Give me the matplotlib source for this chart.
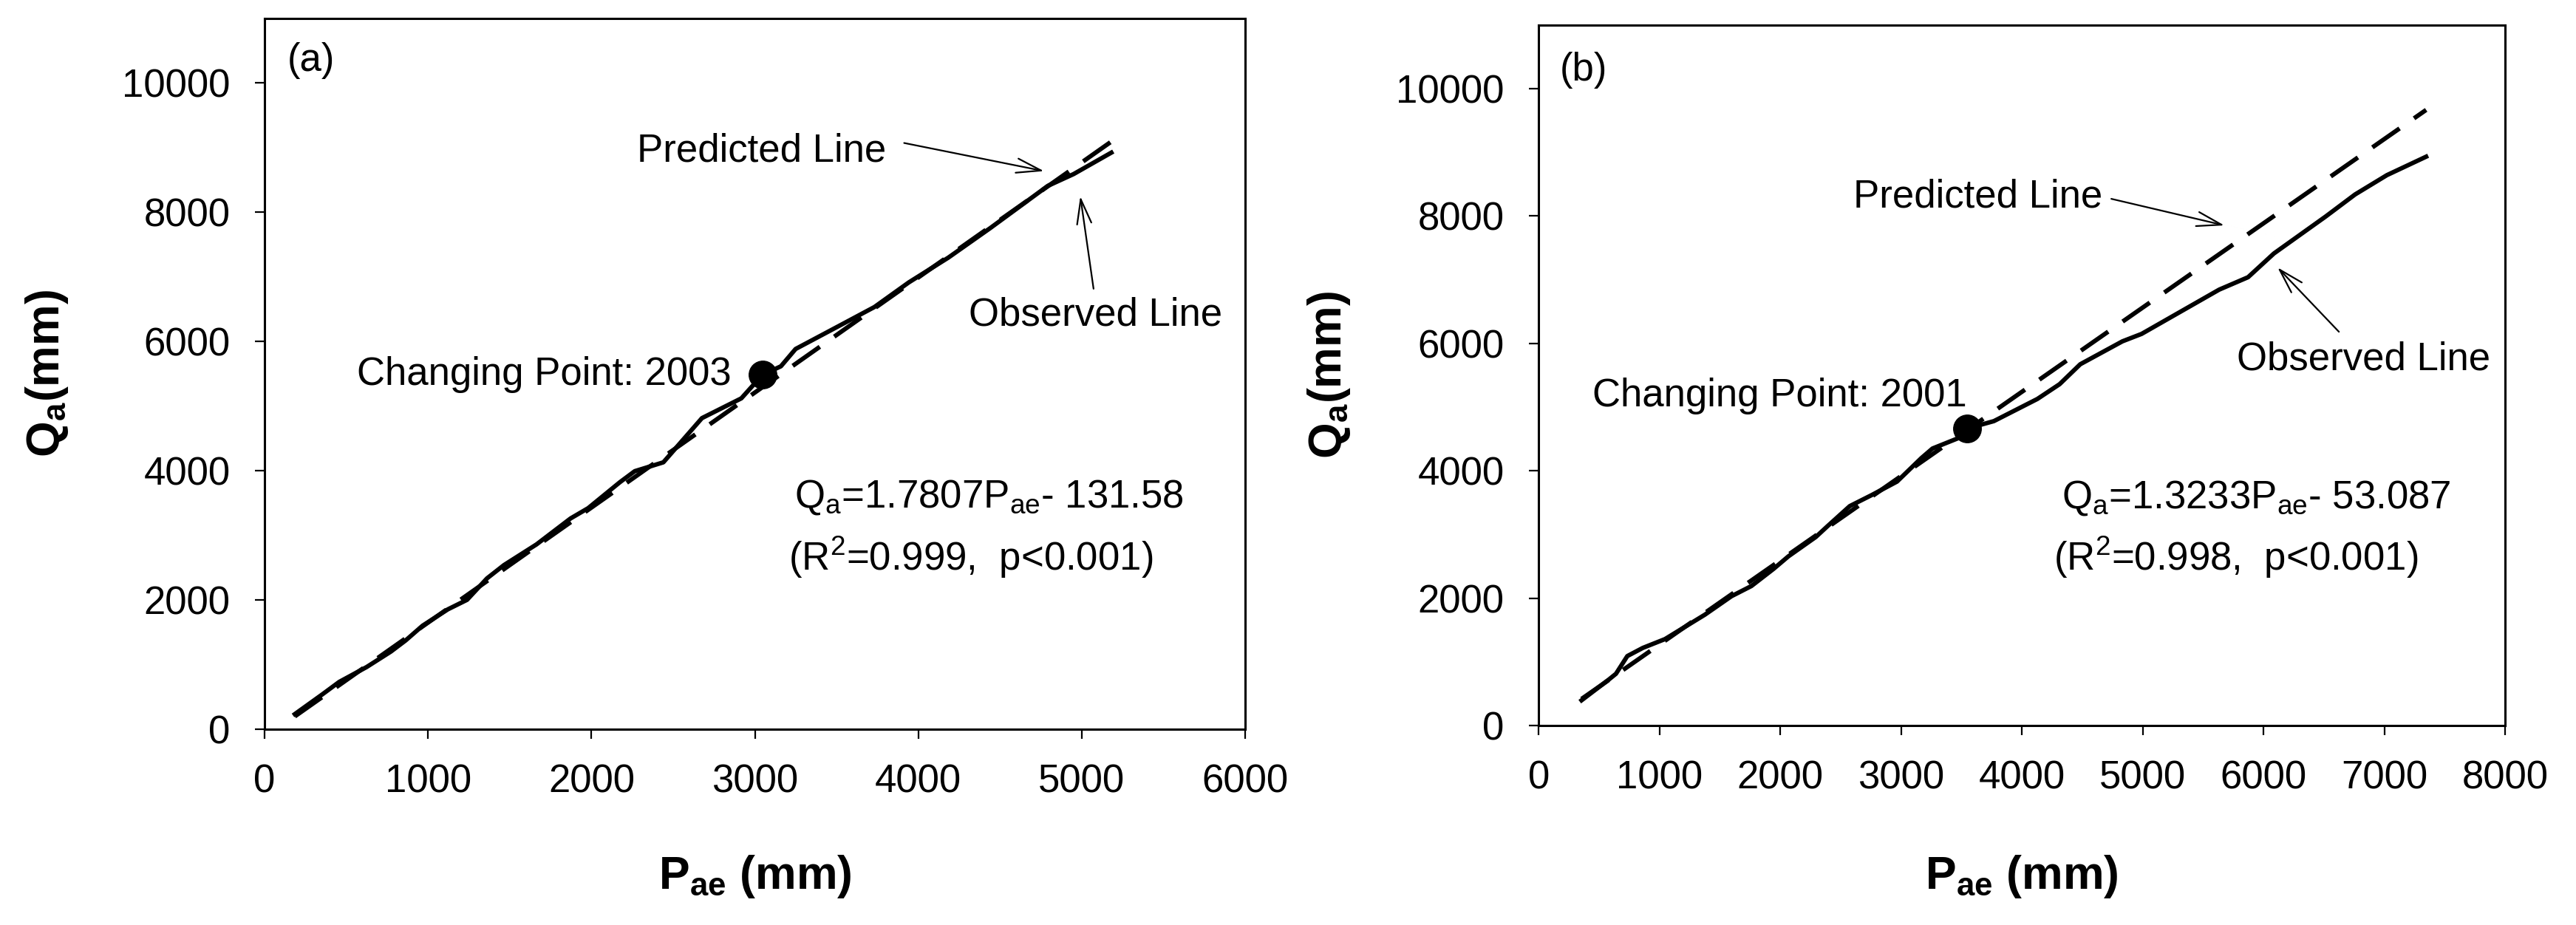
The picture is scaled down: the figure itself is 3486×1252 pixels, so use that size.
import matplotlib
matplotlib.use("Agg")
import matplotlib.pyplot as plt

plt.rcParams['font.family'] = ['Liberation Sans', 'DejaVu Sans']
plt.rcParams['mathtext.fontset'] = 'custom'
plt.rcParams['mathtext.rm'] = 'Liberation Sans'
plt.rcParams['mathtext.it'] = 'Liberation Sans:italic'
plt.rcParams['mathtext.bf'] = 'Liberation Sans:bold'

# (a) cumulative series, changing point 2003
pae_a = [185, 353, 457, 624, 773, 863, 967, 1121, 1239, 1361, 1465, 1664, 1872, 1980, 2174,
         2265, 2440, 2676, 2917, 3046, 3159, 3249, 3505, 3731, 3942, 4183, 4440, 4792, 4950, 5181]
qa_a = [233, 538, 732, 961, 1201, 1373, 1602, 1854, 2002, 2334, 2540, 2860, 3261, 3421, 3822,
        3993, 4130, 4814, 5120, 5483, 5616, 5884, 6228, 6533, 6915, 7297, 7755, 8408, 8591, 8923]
change_a = (3046, 5483)
slope_a, icpt_a = 1.7807, -131.58

# (b) cumulative series, changing point 2001
pae_b = [355, 580, 640, 734, 862, 1046, 1376, 1596, 1761, 1945, 2067, 2294, 2391, 2575, 2758,
         2966, 3168, 3260, 3474, 3547, 3768, 4128, 4312, 4483, 4832, 4991, 5633, 5872, 6086,
         6514, 6758, 7021, 7346]
qa_b = [395, 720, 812, 1090, 1218, 1357, 1740, 2030, 2190, 2460, 2656, 2960, 3130, 3445, 3620,
        3830, 4200, 4350, 4513, 4663, 4780, 5128, 5360, 5673, 6033, 6150, 6845, 7040, 7413,
        7993, 8340, 8643, 8933]
change_b = (3547, 4663)
slope_b, icpt_b = 1.3233, -53.087

FS = 38
LW = 4.3

fig = plt.figure(figsize=(34.86, 12.52), dpi=100)
ax1 = fig.add_axes([0.1027, 0.2117, 0.3807, 0.7684])
ax2 = fig.add_axes([0.5973, 0.2157, 0.3752, 0.7572])


def style_axes(ax, xmax, ylab_x, xlab_y):
    ax.set_xlim(0, xmax)
    ax.set_ylim(0, 11000)
    ax.set_xticks(range(0, xmax + 1, 1000))
    ax.set_yticks(range(0, 10001, 2000))
    for s in ax.spines.values():
        s.set_linewidth(2.2)
    ax.tick_params(direction='out', length=9.5, width=1.6, labelsize=FS)
    ax.tick_params(axis='x', pad=24)
    ax.tick_params(axis='y', pad=24)
    ax.set_xlabel(r'P$_\mathregular{ae}$ (mm)', fontsize=45, fontweight='bold', va='top')
    ax.set_ylabel(r'Q$_\mathregular{a}$(mm)', fontsize=45, fontweight='bold')
    ax.xaxis.set_label_coords(0.5, xlab_y)
    ax.yaxis.set_label_coords(ylab_x, 0.5)


def arrow(ax, start, end):
    ax.annotate('', xy=end, xytext=start,
                arrowprops=dict(arrowstyle='->,head_length=1.2,head_width=0.35',
                                lw=1.6, color='black', shrinkA=0, shrinkB=0,
                                mutation_scale=20))


# panel (a)
ax1.plot(pae_a, qa_a, color='black', lw=LW, solid_joinstyle='round')
xa = [pae_a[0], pae_a[-1]]
ax1.plot(xa, [slope_a * v + icpt_a for v in xa], color='black', lw=LW, linestyle=(0, (7.5, 4)))
ax1.plot(*change_a, 'o', color='black', markersize=27)
style_axes(ax1, 6000, -0.198, -0.175)
ax1.text(0.023, 0.967, '(a)', transform=ax1.transAxes, fontsize=FS, va='top', ha='left')
ax1.text(3802, 8786, 'Predicted Line', fontsize=FS, ha='right', va='baseline')
arrow(ax1, (3913, 9072), (4769, 8637))
ax1.text(5859, 6243, 'Observed Line', fontsize=FS, ha='right', va='baseline')
arrow(ax1, (5072, 6816), (4991, 8247))
ax1.text(2857, 5326, 'Changing Point: 2003', fontsize=FS, ha='right', va='baseline')
ax1.text(3241, 3436, r'Q$_\mathregular{a}$=1.7807P$_\mathregular{ae}$- 131.58',
         fontsize=FS, ha='left', va='baseline')
ax1.text(3205, 2463, r'(R$^\mathregular{2}$=0.999,  p<0.001)', fontsize=FS, ha='left', va='baseline')

# panel (b)
ax2.plot(pae_b, qa_b, color='black', lw=LW, solid_joinstyle='round')
xb = [pae_b[0], pae_b[-1]]
ax2.plot(xb, [slope_b * v + icpt_b for v in xb], color='black', lw=LW, linestyle=(0, (7.5, 4)))
ax2.plot(*change_b, 'o', color='black', markersize=27)
style_axes(ax2, 8000, -0.193, -0.183)
ax2.text(0.022, 0.962, '(b)', transform=ax2.transAxes, fontsize=FS, va='top', ha='left')
ax2.text(4667, 8144, 'Predicted Line', fontsize=FS, ha='right', va='baseline')
arrow(ax2, (4740, 8271), (5676, 7854))
ax2.text(7878, 5592, 'Observed Line', fontsize=FS, ha='right', va='baseline')
arrow(ax2, (6624, 6183), (6116, 7193))
ax2.text(3547, 5012, 'Changing Point: 2001', fontsize=FS, ha='right', va='baseline')
ax2.text(4330, 3422, r'Q$_\mathregular{a}$=1.3233P$_\mathregular{ae}$- 53.087',
         fontsize=FS, ha='left', va='baseline')
ax2.text(4263, 2436, r'(R$^\mathregular{2}$=0.998,  p<0.001)', fontsize=FS, ha='left', va='baseline')

fig.savefig('out.png', dpi=100)
